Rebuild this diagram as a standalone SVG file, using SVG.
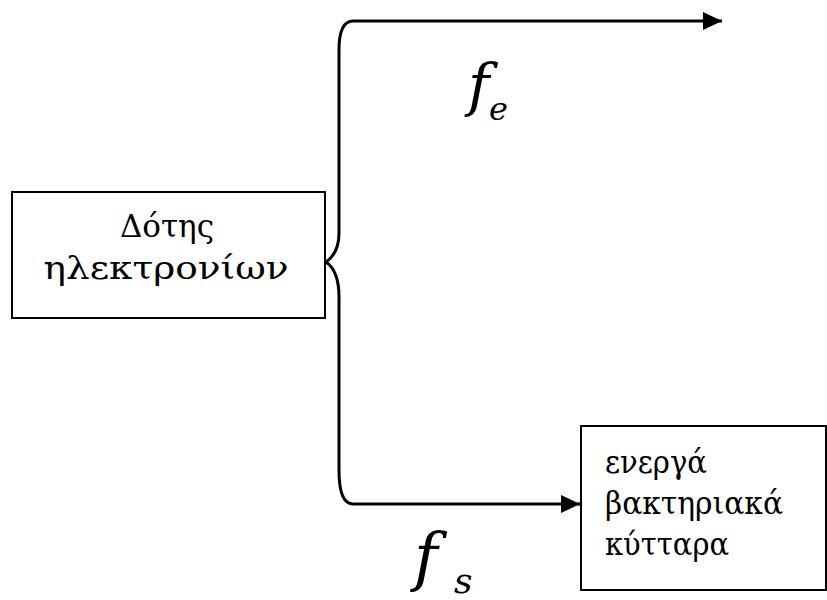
<svg xmlns="http://www.w3.org/2000/svg" width="827" height="600" viewBox="0 0 827 600">
<style>
.box{fill:#fff;stroke:#000;stroke-width:2}
.ln{fill:none;stroke:#000;stroke-width:3}
text{fill:#000;font-family:"DejaVu Serif",serif}
.t{font-size:31px}
.m{font-style:italic}
</style>
<defs>
<marker id="ah" markerWidth="19" markerHeight="18" refX="19" refY="9" orient="auto" markerUnits="userSpaceOnUse">
<path d="M0,0 L19,9 L0,18 z" fill="#000"/>
</marker>
</defs>
<rect width="827" height="600" fill="#fff"/>
<g id="connectors">
<path class="ln" d="M326,262 Q339,253 339,233 L339,50 Q339,21 353,21 L722,21" marker-end="url(#ah)"/>
<path class="ln" d="M326,262 Q339,271 339,297 L339,470 Q339,504 353,504 L580,504" marker-end="url(#ah)"/>
</g>
<g id="donor">
<rect class="box" x="12" y="192" width="313" height="126"/>
<text class="t" x="167" y="237" text-anchor="middle">Δότης</text>
<text class="t" x="166" y="279" text-anchor="middle" textLength="245" lengthAdjust="spacingAndGlyphs">ηλεκτρονίων</text>
</g>
<g id="cells">
<rect class="box" x="581" y="426" width="245" height="164"/>
<text class="t" x="605" y="473" textLength="102" lengthAdjust="spacingAndGlyphs">ενεργά</text>
<text class="t" x="605" y="514" textLength="178" lengthAdjust="spacingAndGlyphs">βακτηριακά</text>
<text class="t" x="605" y="555" textLength="124" lengthAdjust="spacingAndGlyphs">κύτταρα</text>
</g>
<g id="fe">
<text class="m" x="468" y="105" font-size="58">f</text>
<text class="m" x="489" y="120" font-size="32">e</text>
</g>
<g id="fs">
<text class="m" x="414" y="579" font-size="64">f</text>
<text class="m" x="454" y="593" font-size="36">s</text>
</g>
</svg>
